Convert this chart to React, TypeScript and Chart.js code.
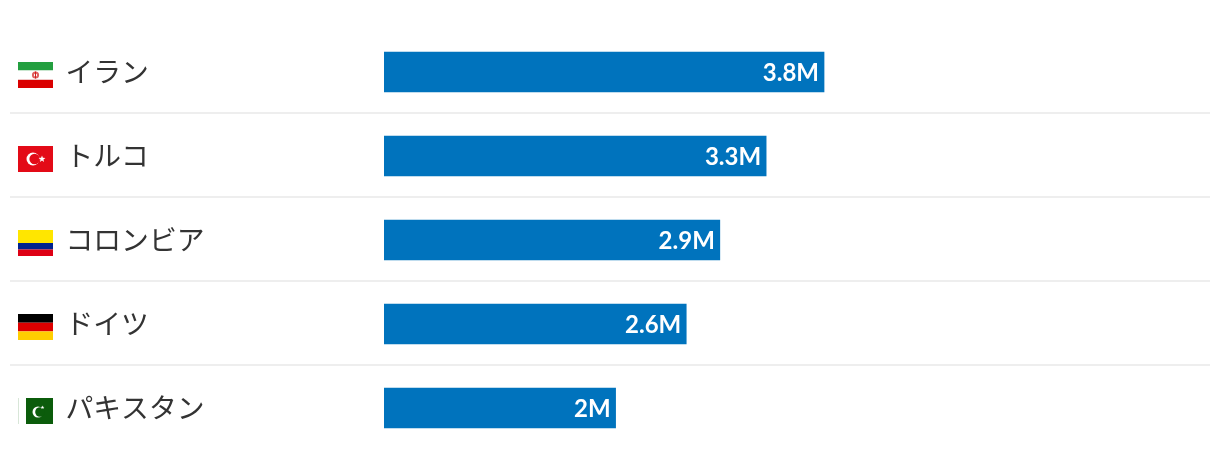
import React, { useEffect, useRef } from "react";
import { Chart, registerables } from "chart.js";

Chart.register(...registerables);

const countries = ["イラン", "トルコ", "コロンビア", "ドイツ", "パキスタン"];
const values = [3.8, 3.3, 2.9, 2.61, 2.0];
const valueLabels = ["3.8M", "3.3M", "2.9M", "2.6M", "2M"];
const flagCodes = ["ir", "tr", "co", "de", "pk"];
const axisMax = 7.133;

const BAR_COLOR = "#0073bd";
const LINE_COLOR = "#eeeeee";
const TEXT_COLOR = "#333333";
const LABEL_FONT = '27.8px Lato, "Noto Sans CJK JP", sans-serif';
const VALUE_FONT = '700 24px Lato, "Noto Sans", sans-serif';

function stripes(ctx: CanvasRenderingContext2D, x: number, y: number, w: number, parts: [string, number][]) {
  let top = y;
  for (const [color, h] of parts) {
    ctx.fillStyle = color;
    ctx.fillRect(x, top, w, h);
    top += h;
  }
}

function crescent(ctx: CanvasRenderingContext2D, cx: number, cy: number, r: number, bg: string, dx: number, rr: number) {
  ctx.fillStyle = "#ffffff";
  ctx.beginPath();
  ctx.arc(cx, cy, r, 0, Math.PI * 2);
  ctx.fill();
  ctx.fillStyle = bg;
  ctx.beginPath();
  ctx.arc(cx + dx, cy, rr, 0, Math.PI * 2);
  ctx.fill();
}

function star(ctx: CanvasRenderingContext2D, cx: number, cy: number, r: number) {
  ctx.fillStyle = "#ffffff";
  ctx.beginPath();
  for (let i = 0; i < 10; i++) {
    const a = -Math.PI / 2 + (i * Math.PI) / 5;
    const rad = i % 2 === 0 ? r : r * 0.42;
    ctx.lineTo(cx + Math.cos(a) * rad, cy + Math.sin(a) * rad);
  }
  ctx.closePath();
  ctx.fill();
}

function drawFlag(ctx: CanvasRenderingContext2D, code: string, x: number, y: number) {
  const w = 35;
  const h = 26;
  if (code === "ir") {
    stripes(ctx, x, y, w, [["#239f40", 8], ["#ffffff", 10], ["#da0000", 8]]);
    ctx.fillStyle = "#f0c8c8";
    ctx.fillRect(x, y + 17, w, 1);
    ctx.fillStyle = "#c8e6cf";
    ctx.fillRect(x, y + 8, w, 1);
    ctx.strokeStyle = "#e06060";
    ctx.lineWidth = 2;
    ctx.beginPath();
    ctx.arc(x + w / 2, y + 13, 2.6, 0, Math.PI * 2);
    ctx.stroke();
    ctx.fillStyle = "#d02020";
    ctx.fillRect(x + w / 2 - 0.5, y + 9.5, 1, 7);
  } else if (code === "tr") {
    ctx.fillStyle = "#e30a17";
    ctx.fillRect(x, y, w, h);
    crescent(ctx, x + 15, y + 13, 6.5, "#e30a17", 1.6, 5.2);
    star(ctx, x + 24, y + 13, 3.6);
  } else if (code === "co") {
    stripes(ctx, x, y, w, [["#ffe600", 13], ["#00238f", 6.5], ["#de0015", 6.5]]);
  } else if (code === "de") {
    stripes(ctx, x, y, w, [["#000000", 8.7], ["#dd0000", 8.7], ["#ffce00", 8.6]]);
  } else if (code === "pk") {
    ctx.fillStyle = "#d8e6d8";
    ctx.fillRect(x, y, 1, h);
    ctx.fillStyle = "#0b5c0b";
    ctx.fillRect(x + 8, y, w - 8, h);
    crescent(ctx, x + 20, y + 14, 5.5, "#0b5c0b", 2, 4.8);
    star(ctx, x + 24.5, y + 9.5, 2);
  }
}

const rowsPlugin = {
  id: "rows",
  afterDatasetsDraw(chart: any) {
    const { ctx, scales } = chart;
    const yScale = scales.y;
    const xScale = scales.x;
    ctx.save();
    countries.forEach((name, i) => {
      const cy = yScale.getPixelForValue(i);
      drawFlag(ctx, flagCodes[i], 18, cy - 10);
      ctx.fillStyle = TEXT_COLOR;
      ctx.font = LABEL_FONT;
      ctx.textAlign = "left";
      ctx.textBaseline = "middle";
      ctx.fillText(name, 65.5, cy + 1);
      ctx.fillStyle = "#ffffff";
      ctx.font = VALUE_FONT;
      ctx.textAlign = "right";
      ctx.fillText(valueLabels[i], xScale.getPixelForValue(values[i]) - 5, cy + 1);
      if (i < countries.length - 1) {
        const next = yScale.getPixelForValue(i + 1);
        ctx.fillStyle = LINE_COLOR;
        ctx.fillRect(10, (cy + next) / 2 - 2, 1200, 2);
      }
    });
    ctx.restore();
  },
};

export default function App() {
  const ref = useRef<HTMLCanvasElement>(null);
  useEffect(() => {
    document.body.style.margin = "0";
    document.body.style.background = "#ffffff";
    const chart = new Chart(ref.current as HTMLCanvasElement, {
      type: "bar",
      data: {
        labels: countries,
        datasets: [{ data: values, backgroundColor: BAR_COLOR, barThickness: 40, borderWidth: 0 }],
      },
      options: {
        indexAxis: "y",
        responsive: false,
        animation: false,
        layout: { padding: { left: 384, right: 10, top: 30, bottom: 8 } },
        plugins: { legend: { display: false }, tooltip: { enabled: false } },
        scales: {
          x: { display: false, min: 0, max: axisMax },
          y: { display: false },
        },
      },
      plugins: [rowsPlugin],
    });
    return () => chart.destroy();
  }, []);
  return <canvas ref={ref} width={1220} height={458} style={{ display: "block" }} />;
}
